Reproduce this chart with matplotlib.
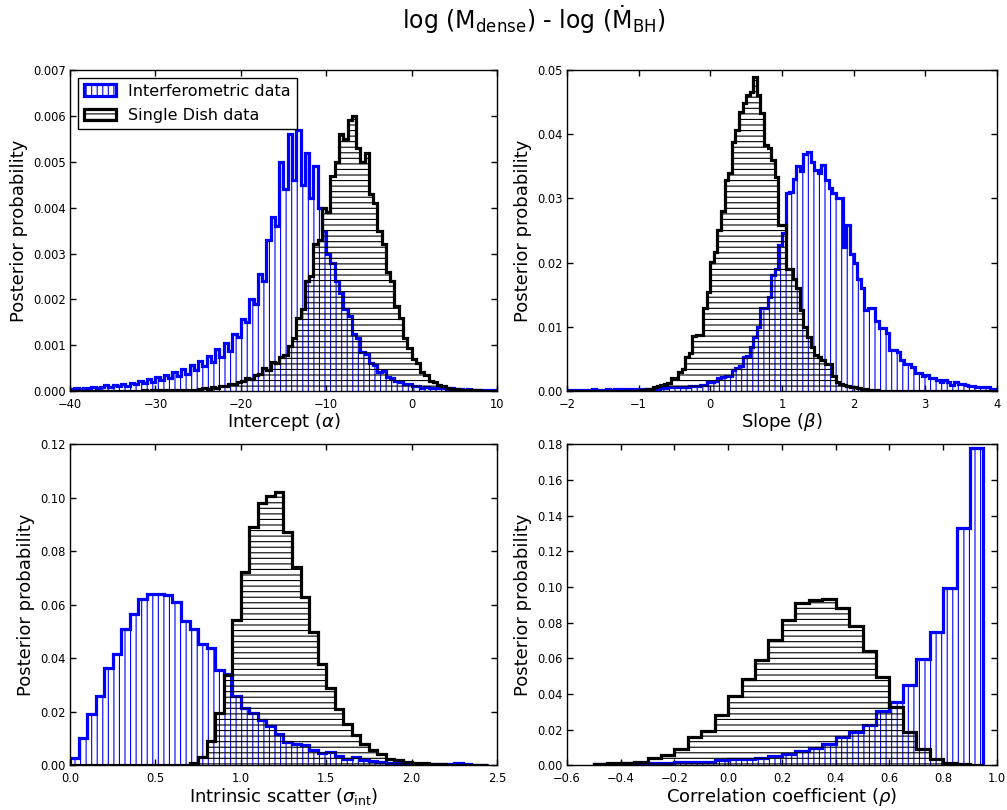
"""
Posterior distributions of the log(M_dense) - log(Mdot_BH) fit parameters,
interferometric vs single dish samples.
"""

import numpy as np
import matplotlib
matplotlib.use("Agg")
import matplotlib.pyplot as plt

# ── Data (bin heights) ───────────────────────────────────────────────────────

# Intercept (alpha): bins of 0.5 from -40 to 10
alpha_edges = np.linspace(-40, 10, 101)
alpha_interf = [
    0.00005, 0.00007, 0.00004, 0.00008, 0.00006, 0.00009, 0.00006, 0.00010, 0.00013, 0.00009,
    0.00014, 0.00011, 0.00016, 0.00012, 0.00019, 0.00015, 0.00023, 0.00018, 0.00027, 0.00021,
    0.00030, 0.00024, 0.00036, 0.00029, 0.00041, 0.00033, 0.00049, 0.00038, 0.00058, 0.00046,
    0.00066, 0.00054, 0.00077, 0.00063, 0.00092, 0.00074, 0.00106, 0.00088, 0.00125, 0.00118,
    0.00158, 0.00150, 0.00200, 0.00190, 0.00255, 0.00240, 0.00330, 0.00380, 0.00360, 0.00500,
    0.00440, 0.00560, 0.00460, 0.00570, 0.00450, 0.00520, 0.00420, 0.00490, 0.00400, 0.00350,
    0.00300, 0.00280, 0.00240, 0.00215, 0.00180, 0.00165, 0.00125, 0.00115, 0.00085, 0.00082,
    0.00062, 0.00058, 0.00042, 0.00043, 0.00030, 0.00029, 0.00022, 0.00021, 0.00015, 0.00015,
    0.00011, 0.00012, 0.00008, 0.00010, 0.00007, 0.00008, 0.00006, 0.00007, 0.00004, 0.00006,
    0.00004, 0.00005, 0.00003, 0.00004, 0.00003, 0.00003, 0.00002, 0.00003, 0.00002, 0.00002,
]
alpha_single = [
    0.00001, 0.00001, 0.00001, 0.00001, 0.00001, 0.00001, 0.00001, 0.00001, 0.00001, 0.00001,
    0.00001, 0.00001, 0.00001, 0.00001, 0.00001, 0.00001, 0.00001, 0.00002, 0.00001, 0.00002,
    0.00002, 0.00002, 0.00002, 0.00002, 0.00003, 0.00002, 0.00003, 0.00003, 0.00003, 0.00003,
    0.00004, 0.00006, 0.00005, 0.00009, 0.00008, 0.00012, 0.00011, 0.00016, 0.00015, 0.00021,
    0.00022, 0.00029, 0.00027, 0.00036, 0.00037, 0.00050, 0.00046, 0.00064, 0.00062, 0.00075,
    0.00080, 0.00098, 0.00115, 0.00160, 0.00180, 0.00240, 0.00250, 0.00320, 0.00330, 0.00400,
    0.00390, 0.00470, 0.00500, 0.00560, 0.00550, 0.00590, 0.00600, 0.00530, 0.00500, 0.00520,
    0.00430, 0.00410, 0.00350, 0.00320, 0.00260, 0.00240, 0.00185, 0.00160, 0.00115, 0.00095,
    0.00070, 0.00062, 0.00042, 0.00035, 0.00023, 0.00021, 0.00013, 0.00011, 0.00007, 0.00005,
    0.00004, 0.00003, 0.00003, 0.00002, 0.00002, 0.00002, 0.00001, 0.00001, 0.00001, 0.00001,
]

# Slope (beta): bins of 0.05 from -2 to 4
beta_edges = np.linspace(-2, 4, 121)
beta_interf = [
    0.0002, 0.0002, 0.0002, 0.0002, 0.0002, 0.0002, 0.0002, 0.0003, 0.0002, 0.0002,
    0.0002, 0.0003, 0.0002, 0.0003, 0.0003, 0.0002, 0.0003, 0.0003, 0.0003, 0.0003,
    0.0003, 0.0003, 0.0003, 0.0004, 0.0004, 0.0004, 0.0005, 0.0005, 0.0006, 0.0006,
    0.0006, 0.0007, 0.0007, 0.0007, 0.0008, 0.0008, 0.0008, 0.0009, 0.0009, 0.0014,
    0.0015, 0.0016, 0.0021, 0.0022, 0.0023, 0.0024, 0.0033, 0.0036, 0.0040, 0.0053,
    0.0055, 0.0069, 0.0085, 0.0100, 0.0129, 0.0129, 0.0147, 0.0181, 0.0190, 0.0228,
    0.0246, 0.0308, 0.0310, 0.0331, 0.0350, 0.0342, 0.0370, 0.0372, 0.0357, 0.0344,
    0.0339, 0.0352, 0.0329, 0.0316, 0.0308, 0.0300, 0.0300, 0.0225, 0.0258, 0.0214,
    0.0199, 0.0175, 0.0160, 0.0126, 0.0129, 0.0129, 0.0110, 0.0098, 0.0098, 0.0090,
    0.0064, 0.0064, 0.0061, 0.0048, 0.0043, 0.0043, 0.0038, 0.0028, 0.0028, 0.0023,
    0.0025, 0.0021, 0.0021, 0.0018, 0.0015, 0.0018, 0.0015, 0.0009, 0.0015, 0.0011,
    0.0011, 0.0009, 0.0008, 0.0008, 0.0007, 0.0007, 0.0006, 0.0006, 0.0004, 0.0004,
]
beta_single = [
    0.0000, 0.0000, 0.0000, 0.0000, 0.0000, 0.0000, 0.0000, 0.0000, 0.0000, 0.0001,
    0.0000, 0.0001, 0.0001, 0.0001, 0.0001, 0.0001, 0.0001, 0.0001, 0.0001, 0.0001,
    0.0002, 0.0002, 0.0003, 0.0004, 0.0006, 0.0008, 0.0009, 0.0012, 0.0013, 0.0020,
    0.0020, 0.0030, 0.0035, 0.0053, 0.0059, 0.0086, 0.0087, 0.0088, 0.0129, 0.0155,
    0.0201, 0.0217, 0.0251, 0.0280, 0.0329, 0.0339, 0.0388, 0.0407, 0.0435, 0.0448,
    0.0461, 0.0465, 0.0489, 0.0461, 0.0433, 0.0383, 0.0378, 0.0360, 0.0333, 0.0259,
    0.0259, 0.0191, 0.0190, 0.0175, 0.0160, 0.0126, 0.0100, 0.0085, 0.0069, 0.0056,
    0.0053, 0.0048, 0.0043, 0.0043, 0.0024, 0.0015, 0.0012, 0.0010, 0.0008, 0.0007,
    0.0006, 0.0005, 0.0004, 0.0003, 0.0002, 0.0002, 0.0002, 0.0001, 0.0001, 0.0001,
    0.0000, 0.0000, 0.0000, 0.0000, 0.0000, 0.0000, 0.0000, 0.0000, 0.0000, 0.0000,
    0.0000, 0.0000, 0.0000, 0.0000, 0.0000, 0.0000, 0.0000, 0.0000, 0.0000, 0.0000,
    0.0000, 0.0000, 0.0000, 0.0000, 0.0000, 0.0000, 0.0000, 0.0000, 0.0000, 0.0000,
]

# Intrinsic scatter (sigma_int): bins of 0.05 from 0 to 2.45
sigma_edges = np.linspace(0, 2.45, 50)
sigma_interf = [
    0.0027, 0.0102, 0.0193, 0.0258, 0.0364, 0.0415, 0.0509, 0.0565, 0.0623, 0.0641,
    0.0639, 0.0638, 0.0611, 0.0538, 0.0508, 0.0455, 0.0437, 0.0356, 0.0340, 0.0260,
    0.0216, 0.0196, 0.0168, 0.0147, 0.0119, 0.0087, 0.0081, 0.0075, 0.0056, 0.0047,
    0.0050, 0.0037, 0.0025, 0.0031, 0.0021, 0.0016, 0.0014, 0.0010, 0.0009, 0.0006,
    0.0005, 0.0005, 0.0004, 0.0004, 0.0005, 0.0009, 0.0005, 0.0003, 0.0003,
]
sigma_single = [
    0.0000, 0.0000, 0.0000, 0.0000, 0.0000, 0.0000, 0.0000, 0.0000, 0.0000, 0.0000,
    0.0000, 0.0000, 0.0000, 0.0002, 0.0010, 0.0030, 0.0090, 0.0197, 0.0337, 0.0543,
    0.0722, 0.0890, 0.0980, 0.1008, 0.1020, 0.0872, 0.0742, 0.0630, 0.0498, 0.0380,
    0.0290, 0.0212, 0.0156, 0.0112, 0.0081, 0.0059, 0.0041, 0.0025, 0.0019, 0.0014,
    0.0010, 0.0008, 0.0006, 0.0004, 0.0003, 0.0002, 0.0001, 0.0000, 0.0000,
]

# Correlation coefficient (rho): bins of 0.05 from -0.5 to 0.95
rho_edges = np.linspace(-0.5, 0.95, 30)
rho_interf = [
    0.0007, 0.0010, 0.0011, 0.0013, 0.0013, 0.0015, 0.0019, 0.0019, 0.0022, 0.0030,
    0.0034, 0.0037, 0.0043, 0.0054, 0.0065, 0.0082, 0.0097, 0.0121, 0.0159, 0.0185,
    0.0228, 0.0306, 0.0355, 0.0452, 0.0596, 0.0749, 0.0993, 0.1328, 0.1776,
]
rho_single = [
    0.0007, 0.0011, 0.0011, 0.0020, 0.0041, 0.0056, 0.0091, 0.0157, 0.0194, 0.0280,
    0.0388, 0.0484, 0.0592, 0.0704, 0.0816, 0.0909, 0.0926, 0.0934, 0.0881, 0.0784,
    0.0639, 0.0493, 0.0327, 0.0187, 0.0091, 0.0037, 0.0013, 0.0006, 0.0002,
]

panels = [
    (alpha_edges, alpha_interf, alpha_single, r"Intercept ($\alpha$)",
     (-40, 10), np.arange(-40, 11, 10), (0, 0.007), np.arange(0, 0.0071, 0.001), "%.3f", "%d"),
    (beta_edges, beta_interf, beta_single, r"Slope ($\beta$)",
     (-2, 4), np.arange(-2, 5, 1), (0, 0.05), np.arange(0, 0.051, 0.01), "%.2f", "%d"),
    (sigma_edges, sigma_interf, sigma_single, r"Intrinsic scatter ($\sigma_{\rm int}$)",
     (0, 2.5), np.arange(0, 2.51, 0.5), (0, 0.12), np.arange(0, 0.121, 0.02), "%.2f", "%.1f"),
    (rho_edges, rho_interf, rho_single, r"Correlation coefficient ($\rho$)",
     (-0.6, 1.0), np.arange(-0.6, 1.01, 0.2), (0, 0.18), np.arange(0, 0.181, 0.02), "%.2f", "%.1f"),
]

# ── Plot ─────────────────────────────────────────────────────────────────────

plt.rcParams["hatch.linewidth"] = 0.8
plt.rcParams["font.family"] = "DejaVu Sans"

fig = plt.figure(figsize=(10.07, 8.10), dpi=100)
fig.patch.set_facecolor("white")

positions = [
    [0.0695, 0.517, 0.424, 0.3966],
    [0.563, 0.517, 0.427, 0.3966],
    [0.0695, 0.055, 0.424, 0.3966],
    [0.563, 0.055, 0.427, 0.3966],
]


def tick_text(v, fmt):
    s = fmt % (0 if abs(v) < 1e-9 else v)
    return s.replace("-", "\u2212")


for pos, (edges, interf, single, xlabel, xlim, xticks, ylim, yticks, yfmt, xfmt) in zip(positions, panels):
    ax = fig.add_axes(pos)
    centers = 0.5 * (edges[:-1] + edges[1:])
    ax.hist(centers, bins=edges, weights=interf, histtype="step", color="blue",
            edgecolor="blue", linewidth=2.3, hatch="|||", label="Interferometric data")
    ax.hist(centers, bins=edges, weights=single, histtype="step", color="black",
            edgecolor="black", linewidth=2.3, hatch="---", label="Single Dish data")
    ax.set_xlim(*xlim)
    ax.set_ylim(*ylim)
    ax.set_xticks(xticks)
    ax.set_yticks(yticks)
    ax.set_yticklabels([yfmt % v for v in yticks])
    ax.set_xticklabels([tick_text(v, xfmt) for v in xticks])
    ax.tick_params(direction="in", top=True, right=True, length=4.5, width=1,
                   labelsize=8.3, pad=3)
    ax.tick_params(axis="x", pad=4.6)
    ax.set_xlabel(xlabel, fontsize=13, labelpad=0.5)
    ax.set_ylabel("Posterior probability", fontsize=13, labelpad=4)
    for sp in ax.spines.values():
        sp.set_linewidth(1.0)
    if pos is positions[0]:
        leg = ax.legend(loc="upper left", fontsize=11.5, fancybox=False, framealpha=1,
                        edgecolor="black", handlelength=2.0, handletextpad=0.8,
                        borderaxespad=0.5, borderpad=0.35, labelspacing=0.6)
        leg.get_frame().set_linewidth(1.0)

fig.text(0.53, 0.977, "log (M$_{\\rm dense}$) - log (\u1E40$_{\\rm BH}$)",
         fontsize=17, ha="center", va="center")

plt.savefig("out.png", dpi=100)
